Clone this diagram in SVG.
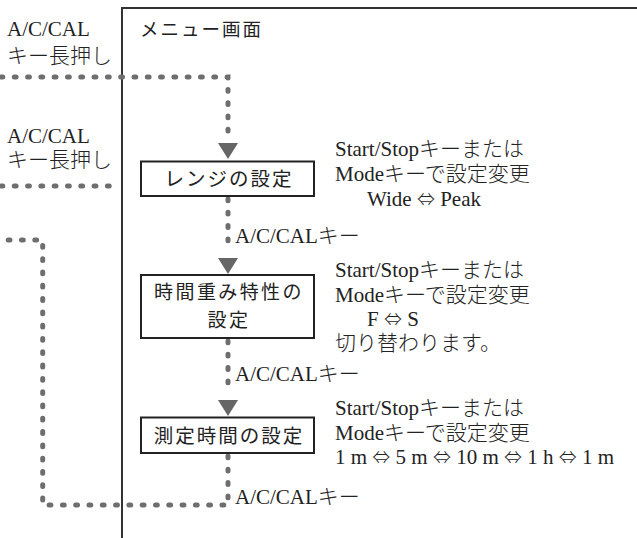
<svg xmlns="http://www.w3.org/2000/svg" width="637" height="538" viewBox="0 0 637 538">
<style>
.lbl{font-family:"Liberation Serif","Noto Sans CJK JP",serif;font-size:21px;font-weight:300;fill:#222}
.ar{font-family:"Noto Sans CJK JP","DejaVu Sans",sans-serif;font-size:18px;font-weight:300}
.box{fill:#fff;stroke:#222;stroke-width:2}
.bt{font-family:"Noto Sans CJK JP","Noto Sans",sans-serif;font-size:19.5px;fill:#222;letter-spacing:2px}
.dot{fill:none;stroke:#6e6e6e;stroke-width:5;stroke-linecap:round;stroke-dasharray:1.8 11.5}
.frame{fill:none;stroke:#333;stroke-width:2}
</style>
<defs>
<polygon id="tri" points="-10,0 10,0 0,16" fill="#666"/>
</defs>
<g id="frame">
<path class="frame" d="M122,538 V8 H637"/>
<text class="bt" x="140" y="36" style="font-size:18.5px;letter-spacing:2px">メニュー画面</text>
</g>
<g id="connectors">
<path class="dot" d="M1,77 H228 V138"/>
<use href="#tri" x="228" y="143"/>
<path class="dot" d="M1,186 H120"/>
<path class="dot" d="M228,199 V252"/>
<use href="#tri" x="228" y="258"/>
<path class="dot" d="M228,341 V394"/>
<use href="#tri" x="228" y="400"/>
<path class="dot" d="M228,456 V505 H42.7 V240 H1"/>
</g>
<g id="label-top">
<text class="lbl" x="7" y="36">A/C/CAL</text>
<text class="lbl" x="7" y="63">キー長押し</text>
</g>
<g id="label-mid">
<text class="lbl" x="7" y="143">A/C/CAL</text>
<text class="lbl" x="7" y="167">キー長押し</text>
</g>
<g id="node-range">
<rect class="box" x="141" y="161.5" width="173" height="34.5"/>
<text class="bt" x="229" y="186" text-anchor="middle">レンジの設定</text>
<text class="lbl" x="335" y="156">Start/Stopキーまたは</text>
<text class="lbl" x="335" y="181">Modeキーで設定変更</text>
<text class="lbl" x="367" y="206">Wide <tspan class="ar">⇔</tspan> Peak</text>
</g>
<text class="lbl" x="235" y="243">A/C/CALキー</text>
<g id="node-time-weight">
<rect class="box" x="141" y="275" width="173" height="63"/>
<text class="bt" text-anchor="middle" style="font-size:19px;letter-spacing:2.4px"><tspan x="229" y="299">時間重み特性の</tspan><tspan x="229" y="327">設定</tspan></text>
<text class="lbl" x="335" y="277">Start/Stopキーまたは</text>
<text class="lbl" x="335" y="302">Modeキーで設定変更</text>
<text class="lbl" x="367" y="326">F <tspan class="ar">⇔</tspan> S</text>
<text class="lbl" x="335" y="350">切り替わります。</text>
</g>
<text class="lbl" x="235" y="381">A/C/CALキー</text>
<g id="node-meas-time">
<rect class="box" x="141" y="417.5" width="173" height="35.5"/>
<text class="bt" x="229" y="443" text-anchor="middle">測定時間の設定</text>
<text class="lbl" x="335" y="415">Start/Stopキーまたは</text>
<text class="lbl" x="335" y="440">Modeキーで設定変更</text>
<text class="lbl" x="335" y="464">1 m <tspan class="ar">⇔</tspan> 5 m <tspan class="ar">⇔</tspan> 10 m <tspan class="ar">⇔</tspan> 1 h <tspan class="ar">⇔</tspan> 1 m</text>
</g>
<text class="lbl" x="235" y="504">A/C/CALキー</text>
</svg>
